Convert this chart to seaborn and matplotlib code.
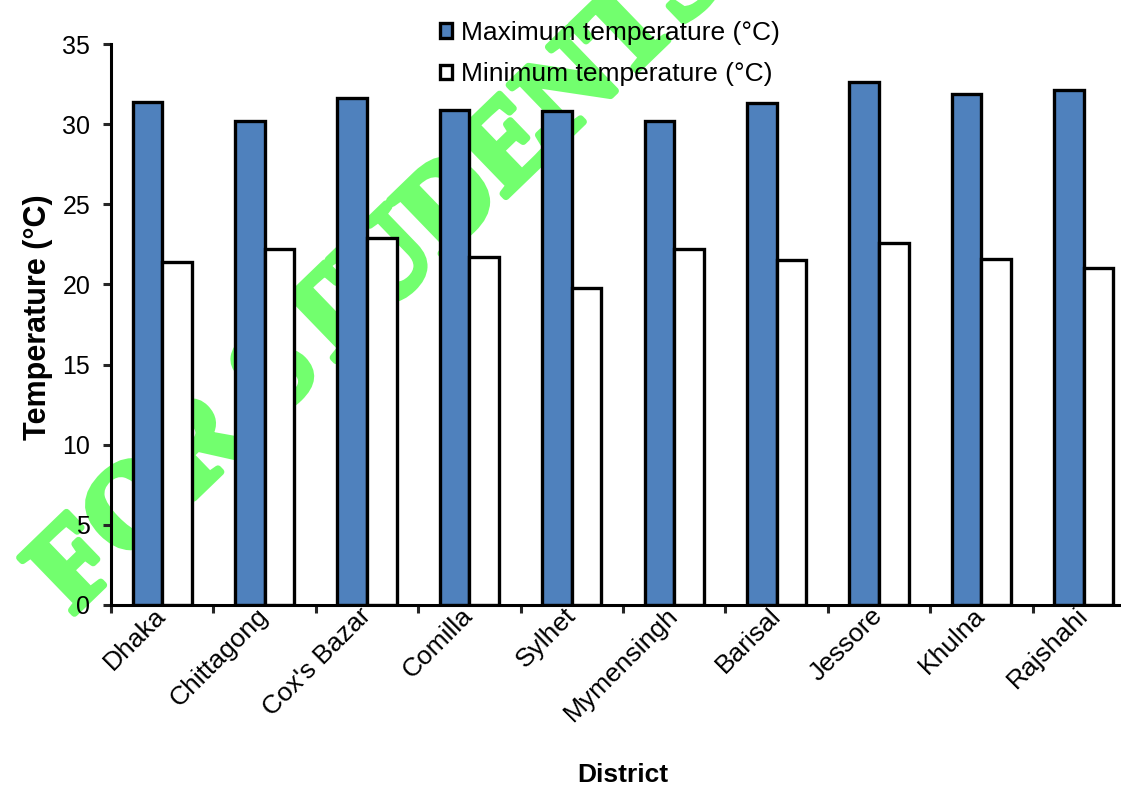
import numpy as np
import pandas as pd
import matplotlib
matplotlib.use("Agg")
import matplotlib.pyplot as plt
import matplotlib.patheffects as pe
import seaborn as sns

# values
districts = ["Dhaka", "Chittagong", "Cox's Bazar", "Comilla", "Sylhet",
             "Mymensingh", "Barisal", "Jessore", "Khulna", "Rajshahi"]
max_temp = [31.4, 30.2, 31.6, 30.9, 30.8, 30.2, 31.3, 32.6, 31.9, 32.1]
min_temp = [21.4, 22.2, 22.9, 21.7, 19.8, 22.2, 21.5, 22.6, 21.6, 21.0]
series_names = ["Maximum temperature (\u00b0C)", "Minimum temperature (\u00b0C)"]
y_ticks = [0, 5, 10, 15, 20, 25, 30, 35]

df = pd.DataFrame({
    "District": districts * 2,
    "Temperature": max_temp + min_temp,
    "Series": [series_names[0]] * len(districts) + [series_names[1]] * len(districts),
})

sns.set_style("white")
plt.rcParams["font.family"] = ["Liberation Sans", "DejaVu Sans"]

W, H = 1121, 785
fig = plt.figure(figsize=(W / 100, H / 100), dpi=100)
fig.patch.set_facecolor("white")
ax = fig.add_axes([111 / W, (H - 605) / H, 1024 / W, 561 / H])
ax.set_facecolor("none")

sns.barplot(data=df, x="District", y="Temperature", hue="Series",
            palette=["#4F81BD", "white"], edgecolor="black", linewidth=2.4,
            width=0.58, gap=0, saturation=1, errorbar=None, ax=ax)

# watermark behind the bars (axes background is transparent)
wm = fig.text(401 / W, 1 - 298 / H, "FOR STUDENTS", rotation=44, ha="center", va="baseline",
              rotation_mode="anchor", fontsize=86, fontweight="bold",
              family="Liberation Serif", color="#72ff6e", zorder=-1)
wm.set_path_effects([pe.withStroke(linewidth=5, foreground="#72ff6e")])

ax.set_xlim(-0.5, len(districts) - 0.5)
ax.set_ylim(0, 35)
ax.set_yticks(y_ticks)
ax.set_xticks(np.arange(-0.5, len(districts), 1), minor=True)
for side in ["top", "right"]:
    ax.spines[side].set_visible(False)
for side in ["left", "bottom"]:
    ax.spines[side].set_linewidth(2.2)
    ax.spines[side].set_color("black")

ax.tick_params(axis="y", which="major", direction="out", length=6, width=2.2,
               labelsize=18, pad=9, left=True, labelcolor="black")
ax.tick_params(axis="x", which="major", length=0, labelsize=19, pad=5, labelcolor="black")
ax.tick_params(axis="x", which="minor", direction="out", length=6, width=2.2, bottom=True)
plt.setp(ax.get_xticklabels(), rotation=45, ha="right", va="center", rotation_mode="anchor")

ax.set_xlabel("District", fontsize=19, fontweight="bold", color="black")
ax.set_ylabel("Temperature (\u00b0C)", fontsize=22, fontweight="bold", color="black")
ax.xaxis.set_label_coords(0.5, -0.281)
ax.yaxis.set_label_coords(-0.057, 0.513)

handles, labels = ax.get_legend_handles_labels()
leg = ax.legend(handles, labels, loc="upper left", bbox_to_anchor=(429 / W, 1 - 10 / H),
                bbox_transform=fig.transFigure, frameon=False, fontsize=19,
                handlelength=0.48, handleheight=0.48, handletextpad=0.35,
                labelspacing=0.68, borderaxespad=0)
for t in leg.get_texts():
    t.set_color("black")

fig.savefig("out.png", dpi=100)
plt.close(fig)
